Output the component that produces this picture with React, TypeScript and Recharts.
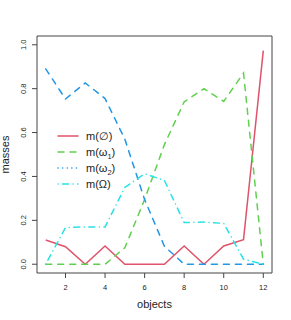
import React from 'react';
import { LineChart, Line, XAxis, YAxis, ReferenceArea } from 'recharts';

const objects = [1, 2, 3, 4, 5, 6, 7, 8, 9, 10, 11, 12];
const mEmpty = [0.11, 0.08, 0, 0.083, 0, 0, 0, 0.083, 0, 0.083, 0.112, 0.973];
const mOmega1 = [0, 0, 0, 0, 0.075, 0.295, 0.545, 0.74, 0.8, 0.742, 0.871, 0];
const mOmega2 = [0.89, 0.753, 0.826, 0.755, 0.57, 0.295, 0.082, 0, 0, 0, 0, 0];
const mTheta = [0, 0.167, 0.17, 0.17, 0.35, 0.412, 0.382, 0.19, 0.192, 0.186, 0.023, 0];

const xTicks = [2, 4, 6, 8, 10, 12];
const yTicks = [0, 0.2, 0.4, 0.6, 0.8, 1.0];

const data = objects.map((x, i) => ({
    x,
    empty: mEmpty[i],
    w1: mOmega1[i],
    w2: mOmega2[i],
    theta: mTheta[i],
}));

const FONT = '"Liberation Sans", Arial, sans-serif';
const RED = '#DF536B';
const GREEN = '#61D04F';
const BLUE = '#2297E6';
const CYAN = '#28E2E5';

const XTick = (props: any) => {
    const { x, payload } = props;
    return (
        <text x={x} y={289.5} textAnchor="middle" fontSize={7.5} fontFamily={FONT} fill="#222">
            {payload.value}
        </text>
    );
};

const YTick = (props: any) => {
    const { y, payload } = props;
    return (
        <text x={26} y={y} transform={`rotate(-90 26 ${y})`} textAnchor="middle" fontSize={7.5} fontFamily={FONT} fill="#222">
            {Number(payload.value).toFixed(1)}
        </text>
    );
};

const legendRows = [
    { color: RED, dash: undefined, label: '∅', sub: '' },
    { color: GREEN, dash: '6 6', label: 'ω', sub: '1' },
    { color: BLUE, dash: '0.1 4.5', label: 'ω', sub: '2' },
    { color: CYAN, dash: '0.1 4.5 6 4.5', label: 'Ω', sub: '' },
];

export default function App() {
    return (
        <div style={{ position: 'absolute', left: 0, top: 0, width: 291, height: 320, background: '#fff' }}>
            <LineChart width={291} height={320} data={data} margin={{ top: 36, right: 19, bottom: 0, left: 0 }}>
                <XAxis
                    dataKey="x"
                    type="number"
                    domain={[0.56, 12.44]}
                    ticks={xTicks}
                    allowDataOverflow
                    axisLine={false}
                    tickSize={5}
                    tickLine={{ stroke: '#444' }}
                    tick={<XTick />}
                    height={47}
                />
                <YAxis
                    type="number"
                    domain={[-0.04, 1.04]}
                    ticks={yTicks}
                    allowDataOverflow
                    axisLine={false}
                    tickSize={5}
                    tickLine={{ stroke: '#444' }}
                    tick={<YTick />}
                    width={37}
                />
                <ReferenceArea x1={0.56} x2={12.44} y1={-0.04} y2={1.04} fill="none" stroke="#444" strokeWidth={1} fillOpacity={0} />
                <Line dataKey="empty" stroke={RED} strokeWidth={1.5} dot={false} isAnimationActive={false} />
                <Line dataKey="w1" stroke={GREEN} strokeWidth={1.5} strokeDasharray="6 6" strokeLinecap="round" dot={false} isAnimationActive={false} />
                <Line dataKey="w2" stroke={BLUE} strokeWidth={1.5} strokeDasharray="6 6" strokeLinecap="round" dot={false} isAnimationActive={false} />
                <Line dataKey="theta" stroke={CYAN} strokeWidth={1.5} strokeDasharray="0.1 4.5 6 4.5" strokeLinecap="round" dot={false} isAnimationActive={false} />
            </LineChart>
            <svg width={291} height={320} style={{ position: 'absolute', left: 0, top: 0, pointerEvents: 'none' }}>
                <text x={154.5} y={308} textAnchor="middle" fontSize={11} fontFamily={FONT} fill="#222">objects</text>
                <text x={9} y={154.5} transform="rotate(-90 9 154.5)" textAnchor="middle" fontSize={11} fontFamily={FONT} fill="#222">masses</text>
                {legendRows.map((r, i) => {
                    const y = 136 + i * 16;
                    return (
                        <g key={i}>
                            <line x1={58} x2={78} y1={y} y2={y} stroke={r.color} strokeWidth={1.5} strokeDasharray={r.dash} strokeLinecap="round" />
                            <text x={86} y={y + 4} fontSize={11} fontFamily={FONT} fill="#222">
                                m({r.label}
                                {r.sub ? <tspan fontSize={7.5} dy={2.5}>{r.sub}</tspan> : null}
                                {r.sub ? <tspan dy={-2.5}>)</tspan> : ')'}
                            </text>
                        </g>
                    );
                })}
            </svg>
        </div>
    );
}
